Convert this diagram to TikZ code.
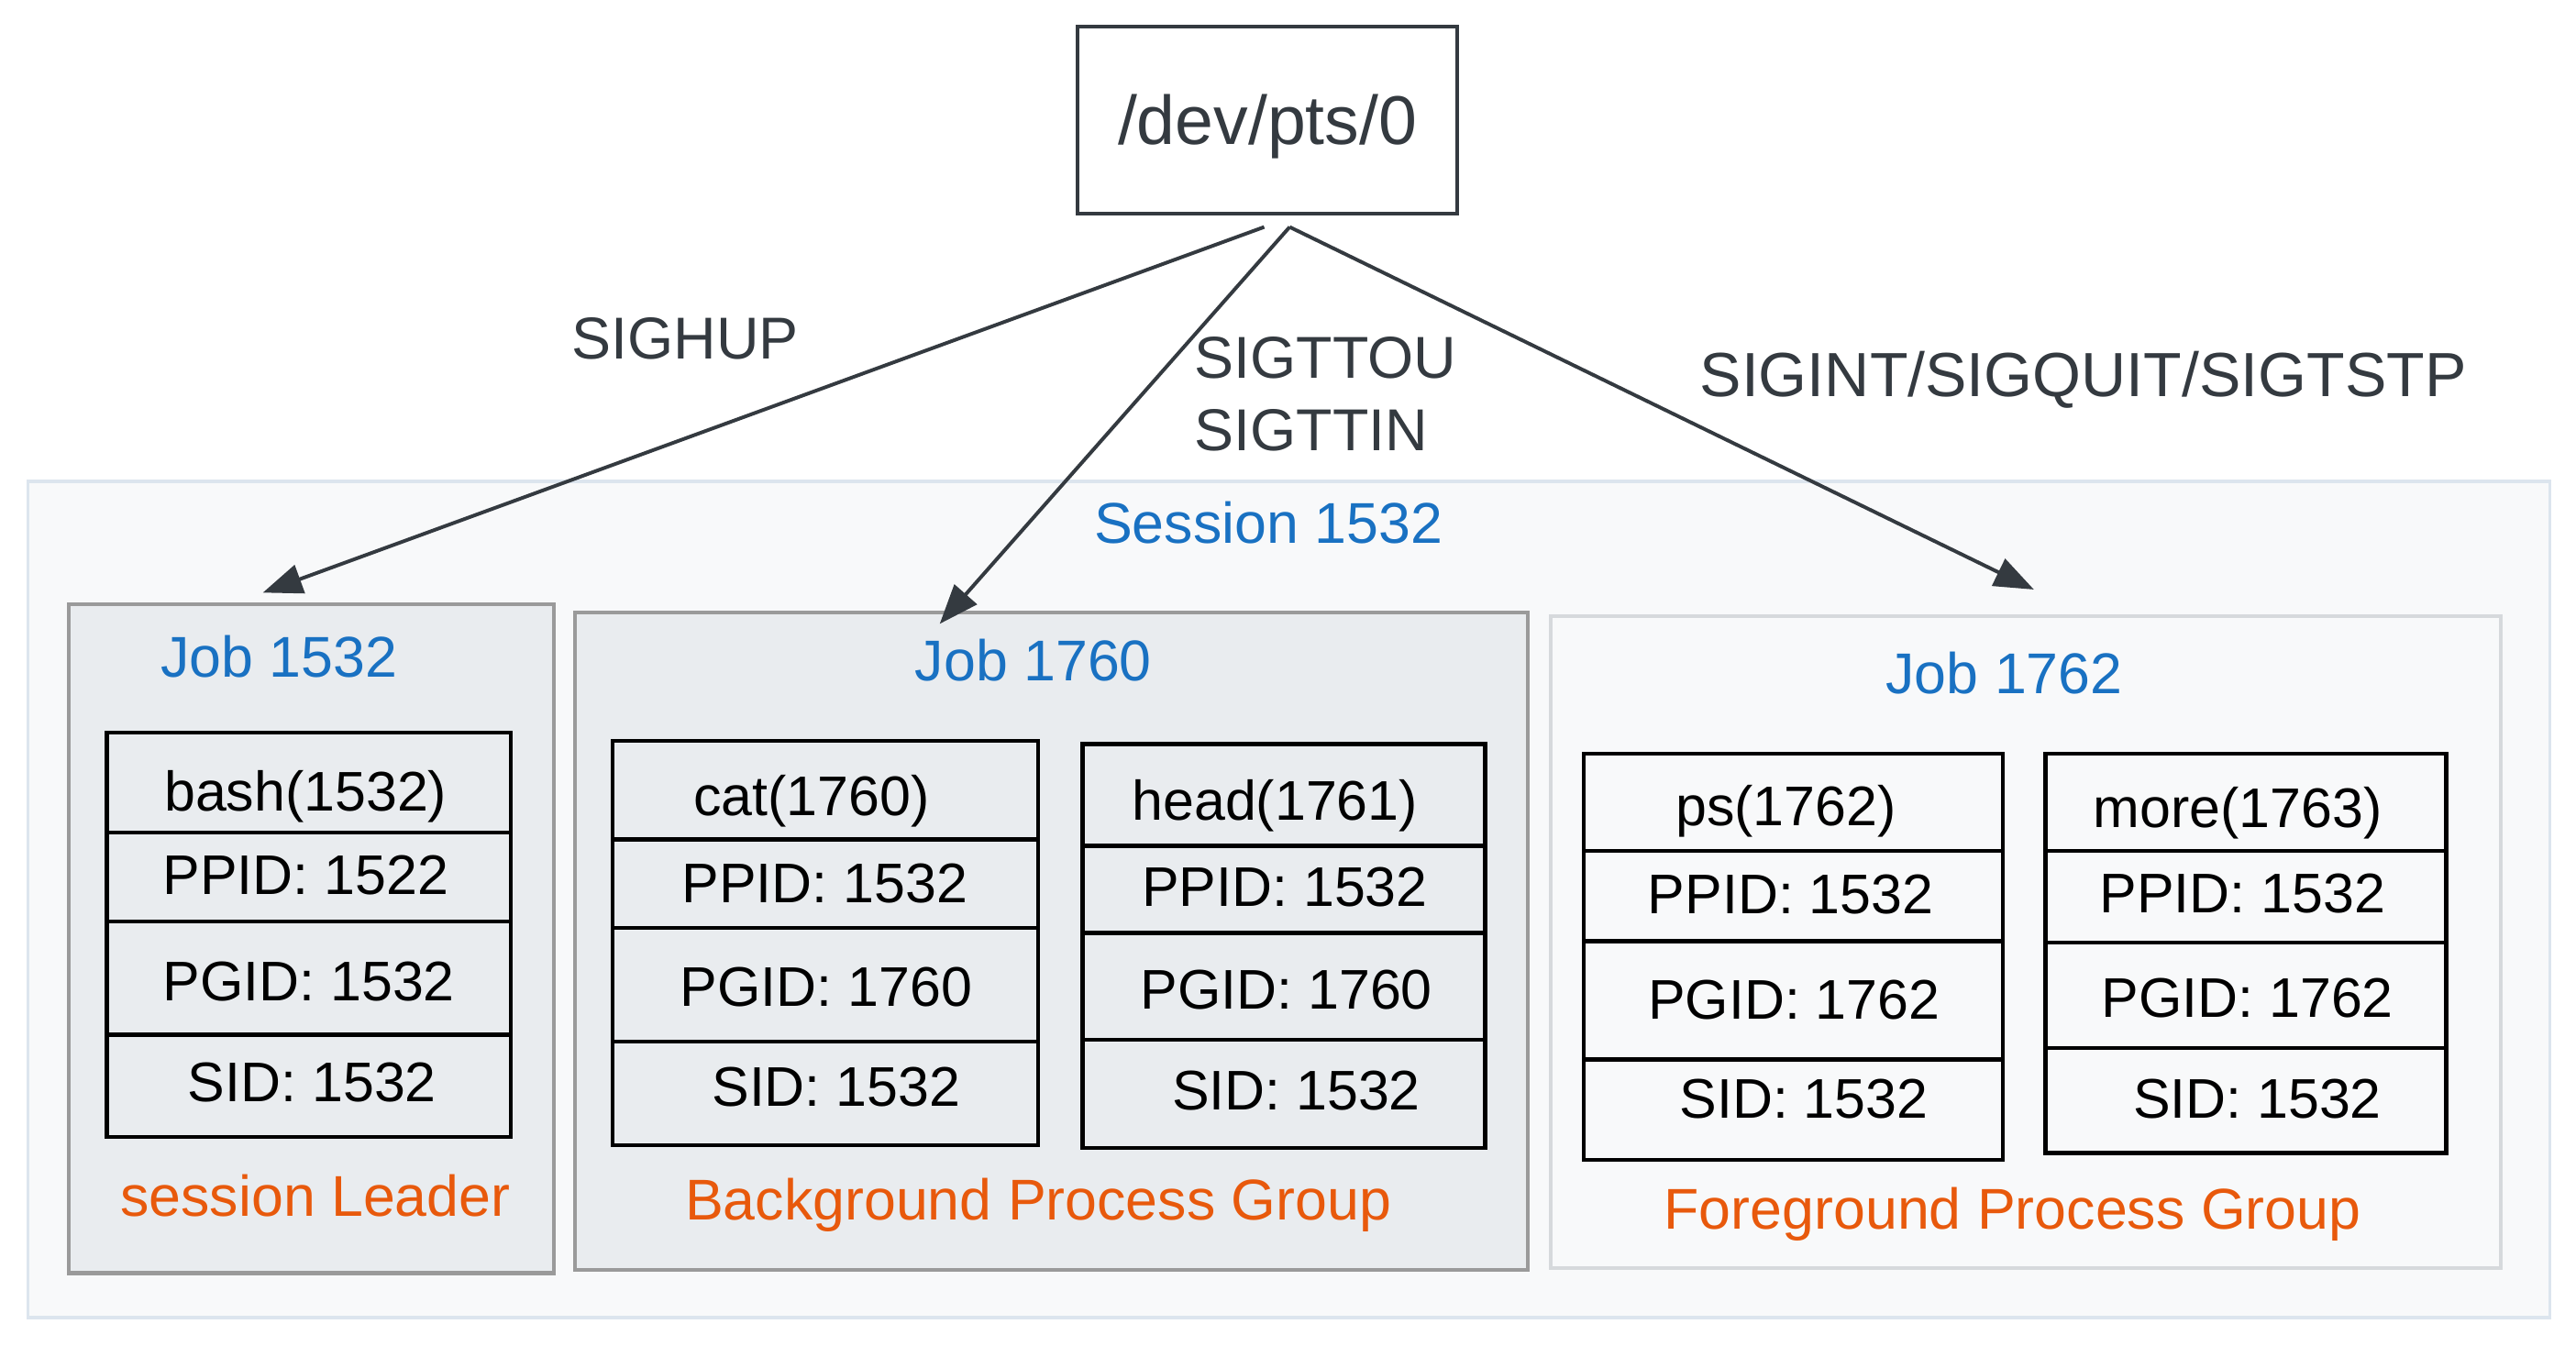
\documentclass[tikz,border=0pt]{standalone}
\usepackage{fontspec}
\setmainfont{Liberation Sans}
\usetikzlibrary{arrows.meta,calc}
\definecolor{ink}{HTML}{343A40}
\definecolor{sblue}{HTML}{1971C2}
\definecolor{sorange}{HTML}{E8590C}
\definecolor{jobfill}{HTML}{E9ECEF}
\definecolor{jobdraw}{HTML}{9A9A9A}
\definecolor{sessfill}{HTML}{F8F9FA}
\definecolor{sessdraw}{HTML}{DCE5EE}
\definecolor{fgdraw}{HTML}{D6D9DC}
\tikzset{
  box/.style={draw, rectangle, inner sep=0pt},
  sess/.style={box, draw=sessdraw, fill=sessfill, line width=2pt},
  job/.style={box, draw=jobdraw, fill=jobfill, line width=2.4pt},
  fgjob/.style={box, draw=fgdraw, fill=sessfill, line width=2.2pt},
  ptab/.style={box, draw=black, line width=2.4pt},
  rowline/.style={draw=black, line width=2.4pt},
  ttybox/.style={box, draw=ink, line width=2.4pt, font=\fontsize{42}{50}\selectfont, text=ink, text height=30pt, text depth=0pt},
  lbl/.style={font=\fontsize{36}{44}\selectfont, text=ink, inner sep=0pt},
  cell/.style={font=\fontsize{34}{42}\selectfont, text=black, inner sep=0pt, text height=25pt, text depth=0pt},
  jobt/.style={font=\fontsize{35}{42}\selectfont, text=sblue, inner sep=0pt, text height=25pt, text depth=0pt},
  grp/.style={font=\fontsize{35}{42}\selectfont, text=sorange, inner sep=0pt, text height=25pt, text depth=0pt},
  arr/.style={draw=ink, line width=2.2pt, -{Triangle[length=24pt,width=18pt]}}
}
\begin{document}
\begin{tikzpicture}[x=1pt,y=-1pt]
\useasboundingbox[fill=white] (0,0) rectangle (1568,819);

% terminal
\node[ttybox, minimum width=231pt, minimum height=114pt] (tty) at (771.5,73) {/dev/pts/0};

% session
\node[sess, minimum width=1535pt, minimum height=509pt] (sess) at (784.5,547.5) {};
\node[jobt] (sesst) at (772,318) {Session 1532};

% jobs
\node[job, minimum width=295pt, minimum height=407pt] (job1532) at (189.5,571.5) {};
\node[job, minimum width=580pt, minimum height=400pt] (job1760) at (640,573) {};
\node[fgjob, minimum width=578pt, minimum height=397pt] (job1762) at (1233,573.5) {};

\node[jobt] (j1t) at (170,400) {Job 1532};
\node[jobt] (j2t) at (629,402) {Job 1760};
\node[jobt] (j3t) at (1220,410) {Job 1762};

\node[grp] (g1) at (192,728) {session Leader};
\node[grp] (g2) at (632,730) {Background Process Group};
\node[grp] (g3) at (1225,736) {Foreground Process Group};

% bash table
\node[ptab, minimum width=246pt, minimum height=246pt] (tbash) at (188,569) {};
\draw[rowline] (65,507) -- (311,507) (65,561) -- (311,561) (65,630) -- (311,630);
\node[cell] (bash1) at (186,481) {bash(1532)};
\node[cell] (bash2) at (186,532) {PPID: 1522};
\node[cell] (bash3) at (188,597) {PGID: 1532};
\node[cell] (bash4) at (190,658) {SID: 1532};

% cat table
\node[ptab, minimum width=259pt, minimum height=246pt] (tcat) at (502.5,574) {};
\draw[rowline] (373,511) -- (632,511) (373,565) -- (632,565) (373,634) -- (632,634);
\node[cell] (cat1) at (494,484) {cat(1760)};
\node[cell] (cat2) at (502,537) {PPID: 1532};
\node[cell] (cat3) at (503,600) {PGID: 1760};
\node[cell] (cat4) at (509,661) {SID: 1532};

% head table
\node[ptab, minimum width=245pt, minimum height=246pt] (thead) at (781.5,576) {};
\draw[rowline] (659,515) -- (904,515) (659,568) -- (904,568) (659,633) -- (904,633);
\node[cell] (head1) at (776,487) {head(1761)};
\node[cell] (head2) at (782,539) {PPID: 1532};
\node[cell] (head3) at (783,602) {PGID: 1760};
\node[cell] (head4) at (789,663) {SID: 1532};

% ps table
\node[ptab, minimum width=255pt, minimum height=247pt] (tps) at (1091.5,582.5) {};
\draw[rowline] (964,518) -- (1219,518) (964,573) -- (1219,573) (964,645) -- (1219,645);
\node[cell] (ps1) at (1087,490) {ps(1762)};
\node[cell] (ps2) at (1090,544) {PPID: 1532};
\node[cell] (ps3) at (1092,608) {PGID: 1762};
\node[cell] (ps4) at (1098,668) {SID: 1532};

% more table
\node[ptab, minimum width=244pt, minimum height=243pt] (tmore) at (1367,580.5) {};
\draw[rowline] (1245,518) -- (1489,518) (1245,574) -- (1489,574) (1245,638) -- (1489,638);
\node[cell] (more1) at (1362,491) {more(1763)};
\node[cell] (more2) at (1365,543) {PPID: 1532};
\node[cell] (more3) at (1368,607) {PGID: 1762};
\node[cell] (more4) at (1374,668) {SID: 1532};

% signals
\draw[arr] ([xshift=-2pt,yshift=-7pt]tty.south) -- ([xshift=-29.5pt,yshift=6pt]job1532.north);
\draw[arr] ([xshift=13.5pt,yshift=-7pt]tty.south) -- ([xshift=-68pt,yshift=-8pt]job1760.north);
\draw[arr] ([xshift=13.5pt,yshift=-7pt]tty.south) -- ([xshift=5pt,yshift=15pt]job1762.north);

\node[lbl] (l1) at (417,206) {SIGHUP};
\node[lbl, anchor=west, align=left] (l2) at (727,240) {SIGTTOU\\SIGTTIN};
\node[lbl, font=\fontsize{38}{44}\selectfont] (l3) at (1268,231) {SIGINT/SIGQUIT/SIGTSTP};
\end{tikzpicture}
\end{document}
